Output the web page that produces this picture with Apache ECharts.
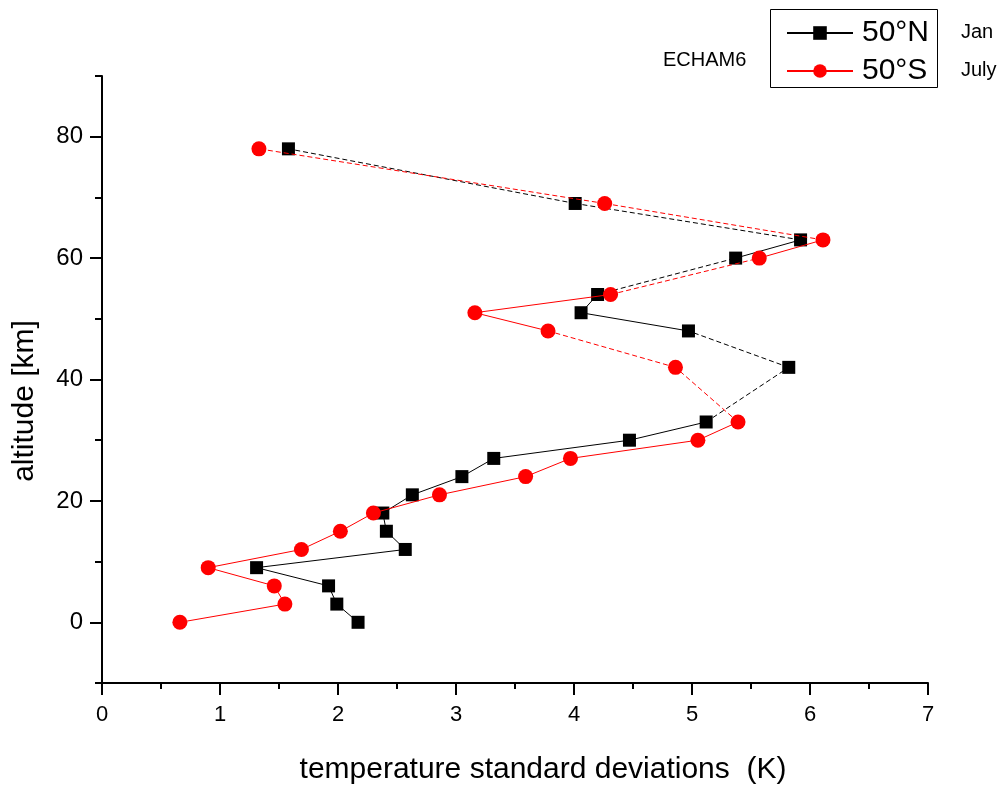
<!DOCTYPE html>
<html>
<head>
<meta charset="utf-8">
<title>Temperature standard deviations vs altitude</title>
<script src="https://cdn.jsdelivr.net/npm/echarts@6/dist/echarts.min.js"></script>
<style>
  html, body { margin: 0; padding: 0; background: #fff; }
  #chart { width: 1002px; height: 787px; }
</style>
</head>
<body>
<div id="chart"></div>
<script>
// Altitude levels (km), bottom to top
const altitudes = [0, 3, 6, 9, 12, 15, 18, 21, 24, 27, 30, 33, 42, 48, 51, 54, 60, 63, 69, 78];
// Temperature standard deviations (K), 50°N in January
const north = [2.17, 1.99, 1.92, 1.31, 2.57, 2.41, 2.38, 2.63, 3.05, 3.32, 4.47, 5.12, 5.82, 4.97, 4.06, 4.20, 5.37, 5.92, 4.01, 1.58];
// Temperature standard deviations (K), 50°S in July
const south = [0.66, 1.55, 1.46, 0.90, 1.69, 2.02, 2.30, 2.86, 3.59, 3.97, 5.05, 5.39, 4.86, 3.78, 3.16, 4.31, 5.57, 6.11, 4.26, 1.33];
// Segments (point i to i+1) drawn dashed
const dashedSegments = [11, 12, 15, 17, 18];
const xTicks = [0, 1, 2, 3, 4, 5, 6, 7];
const yTickLabels = [0, 20, 40, 60, 80];
const seriesNames = ['50°N', '50°S'];

const GAP = ['-', '-'];

function solidPath(values) {
  const out = [];
  values.forEach((v, i) => {
    out.push([v, altitudes[i]]);
    if (dashedSegments.includes(i)) out.push(GAP);
  });
  return out;
}
function dashedPath(values) {
  const out = [];
  dashedSegments.forEach(i => {
    out.push([values[i], altitudes[i]], [values[i + 1], altitudes[i + 1]], GAP);
  });
  return out;
}

const FONT = 'Liberation Sans, Arial, sans-serif';
const chart = echarts.init(document.getElementById('chart'), null, { renderer: 'canvas' });

// Solid segments carry the markers (and the legend entry); dashed ones sit underneath
function profileSeries(name, values, color, symbol, size, z) {
  return [
    {
      name: name,
      type: 'line',
      data: solidPath(values),
      symbol: symbol,
      symbolSize: size,
      showSymbol: true,
      connectNulls: false,
      lineStyle: { color: color, width: 1 },
      itemStyle: { color: color },
      z: z + 1
    },
    {
      name: name,
      type: 'line',
      data: dashedPath(values),
      showSymbol: false,
      symbol: 'none',
      connectNulls: false,
      lineStyle: { color: color, width: 1, type: [5, 3] },
      itemStyle: { color: color },
      silent: true,
      z: z
    }
  ];
}

chart.setOption({
  animation: false,
  backgroundColor: '#ffffff',
  grid: { left: 102, right: 74, top: 76, bottom: 104, containLabel: false },
  xAxis: {
    type: 'value',
    min: 0, max: 7, interval: 1,
    axisLine: { show: true, onZero: false, lineStyle: { color: '#000', width: 2 } },
    axisTick: { show: true, length: 12, lineStyle: { color: '#000', width: 2 } },
    minorTick: { show: true, splitNumber: 2, length: 6, lineStyle: { color: '#000', width: 2 } },
    splitLine: { show: false },
    axisLabel: {
      color: '#000', fontFamily: FONT, fontSize: 22, margin: 21,
      formatter: v => xTicks.includes(v) ? String(v) : ''
    }
  },
  yAxis: [
    {
      type: 'value',
      min: -10, max: 90, interval: 10,
      axisLine: { show: true, onZero: false, lineStyle: { color: '#000', width: 2 } },
      axisTick: { show: true, length: 7, lineStyle: { color: '#000', width: 2 } },
      splitLine: { show: false },
      axisLabel: {
        color: '#000', fontFamily: FONT, fontSize: 24, margin: 19,
        customValues: yTickLabels
      }
    },
    {
      type: 'value',
      position: 'left',
      min: -10, max: 90, interval: 10,
      axisLine: { show: false },
      axisTick: { show: true, length: 12, lineStyle: { color: '#000', width: 2 }, customValues: yTickLabels },
      splitLine: { show: false },
      axisLabel: { show: false }
    }
  ],
  legend: {
    data: seriesNames,
    orient: 'vertical',
    left: 786,
    top: 18,
    itemWidth: 66,
    itemHeight: 17,
    itemGap: 8,
    padding: 0,
    textStyle: { color: '#000', fontFamily: FONT, fontSize: 30, lineHeight: 30, padding: [0, 0, 0, 4] }
  },
  graphic: [
    {
      type: 'rect',
      shape: { x: 770.5, y: 9.5, width: 167, height: 78 },
      style: { fill: 'none', stroke: '#000', lineWidth: 1 },
      z: 100
    },
    {
      type: 'text', x: 663, y: 60,
      style: { text: 'ECHAM6', fontFamily: FONT, fontSize: 20, fill: '#000', textVerticalAlign: 'middle' }
    },
    {
      type: 'text', x: 961, y: 32,
      style: { text: 'Jan', fontFamily: FONT, fontSize: 20, fill: '#000', textVerticalAlign: 'middle' }
    },
    {
      type: 'text', x: 961, y: 70,
      style: { text: 'July', fontFamily: FONT, fontSize: 20, fill: '#000', textVerticalAlign: 'middle' }
    },
    {
      type: 'text', x: 543, y: 770,
      style: { text: 'temperature standard deviations  (K)', fontFamily: FONT, fontSize: 30, fill: '#000', textAlign: 'center', textVerticalAlign: 'middle' }
    },
    {
      type: 'text', x: 25, y: 401, rotation: Math.PI / 2,
      style: { text: 'altitude [km]', fontFamily: FONT, fontSize: 30, fill: '#000', textAlign: 'center', textVerticalAlign: 'middle' }
    }
  ],
  series: [
    ...profileSeries(seriesNames[0], north, '#000000', 'rect', 13, 2),
    ...profileSeries(seriesNames[1], south, '#ff0000', 'circle', 15, 4)
  ]
});
</script>
</body>
</html>
